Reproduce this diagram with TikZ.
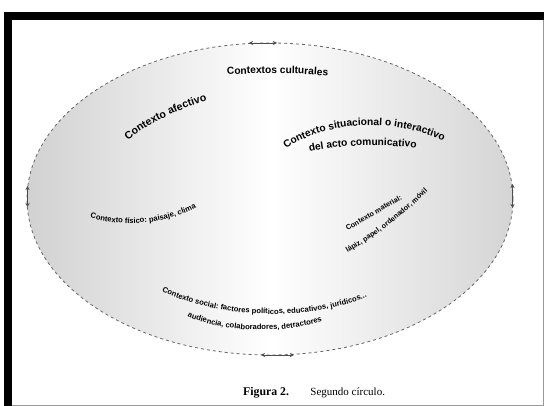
\documentclass[tikz,border=0pt]{standalone}
\usepackage{fontspec}
\setmainfont{Liberation Serif}
\newfontfamily\lblfont{Liberation Sans}
\usetikzlibrary{decorations.text,arrows.meta,positioning}

\newcommand\smalllbl{\lblfont\bfseries\fontsize{7.6}{9}\selectfont}
\newcommand\midlbl{\lblfont\bfseries\fontsize{7.2}{9}\selectfont}
\newcommand\biglbl{\lblfont\bfseries\fontsize{10.2}{12}\selectfont}
\newcommand\hugelbl{\lblfont\bfseries\fontsize{10.6}{13}\selectfont}

\pgfdeclarehorizontalshading{fondo}{100bp}{color(0bp)=(black!30); color(14bp)=(black!26); color(50bp)=(white); color(80bp)=(black!20); color(100bp)=(black!28)}

\tikzset{
  ring/.style={draw=black!60, dash pattern=on 3pt off 3pt, line width=0.8pt},
  curved/.style={decorate, decoration={text along path, text align=center, text={#1}}},
}

\begin{document}
\begin{tikzpicture}[x=1pt,y=1pt]
  \useasboundingbox (0,0) rectangle (544,406);
  \fill[white] (0,0) rectangle (544,406);
  % marco
  \fill[black] (4,386) rectangle (544,394);
  \fill[black] (4,0) rectangle (12,394);
  \draw[black!40] (543.5,0) -- (543.5,386);
  \draw[black!40] (12,0.5) -- (544,0.5);

  % fondo
  \shade[shading=fondo] (270,207) ellipse [x radius=243, y radius=156];
  \path[ring] (270,207) ellipse [x radius=243, y radius=156];

  % flechas
  \coordinate (top-l) at (249,363);
  \coordinate (top-r) at (277,363);
  \coordinate (left-u) at (27.5,220);
  \coordinate (left-d) at (27.5,199);
  \coordinate (right-u) at (512.5,222);
  \coordinate (right-d) at (512.5,198);
  \coordinate (bot-l) at (261,51);
  \coordinate (bot-r) at (294,51);
  \begin{scope}[every edge/.style={draw=black!70, line width=0.6pt}]
    \path [{Stealth[length=4pt,width=4pt]}-{Stealth[length=4pt,width=4pt]}] (top-l) edge (top-r);
    \path [{Stealth[length=4pt,width=4pt]}-{Stealth[length=4pt,width=4pt]}] (left-u) edge (left-d);
    \path [{Stealth[length=4pt,width=4pt]}-{Stealth[length=4pt,width=4pt]}] (right-u) edge (right-d);
    \path [{Stealth[length=4pt,width=4pt]}-{Stealth[length=4pt,width=4pt]}] (bot-l) edge (bot-r);
  \end{scope}

  % textos
  \path[curved={|\biglbl|Contextos culturales}] (200,329) .. controls (250,334) and (305,334) .. (355,327);
  \path[curved={|\hugelbl|Contexto afectivo}] (110,250) .. controls (140,280) and (180,300) .. (230,311);
  \path[curved={|\smalllbl|Contexto físico: paisaje, clima}] (66,197) .. controls (110,176) and (172,176) .. (218,212);
  \path[curved={|\biglbl|Contexto situacional o interactivo}] (270,243) .. controls (315,292) and (410,290) .. (462,255);
  \path[curved={|\biglbl|del acto comunicativo}] (296,251) .. controls (330,262) and (390,263) .. (430,256);
  \path[curved={|\midlbl|Contexto material:}] (330,165) -- (420,217);
  \path[curved={|\midlbl|lápiz, papel, ordenador, móvil}] (330,143) .. controls (370,165) and (405,190) .. (442,229);
  \path[curved={|\smalllbl|Contexto social: factores políticos, educativos, jurídicos...}] (140,128) .. controls (200,84) and (320,79) .. (390,120);
  \path[curved={|\smalllbl|audiencia, colaboradores, detractores}] (172,97) .. controls (215,71) and (295,69) .. (338,92);

  % pie
  \node (fig) [anchor=base west, inner sep=0pt] at (243,10) {\fontsize{11.8}{13}\selectfont\bfseries Figura 2.};
  \node (cap) [right=21pt of fig, inner sep=0pt] {\fontsize{11}{13}\selectfont Segundo círculo.};
\end{tikzpicture}
\end{document}
